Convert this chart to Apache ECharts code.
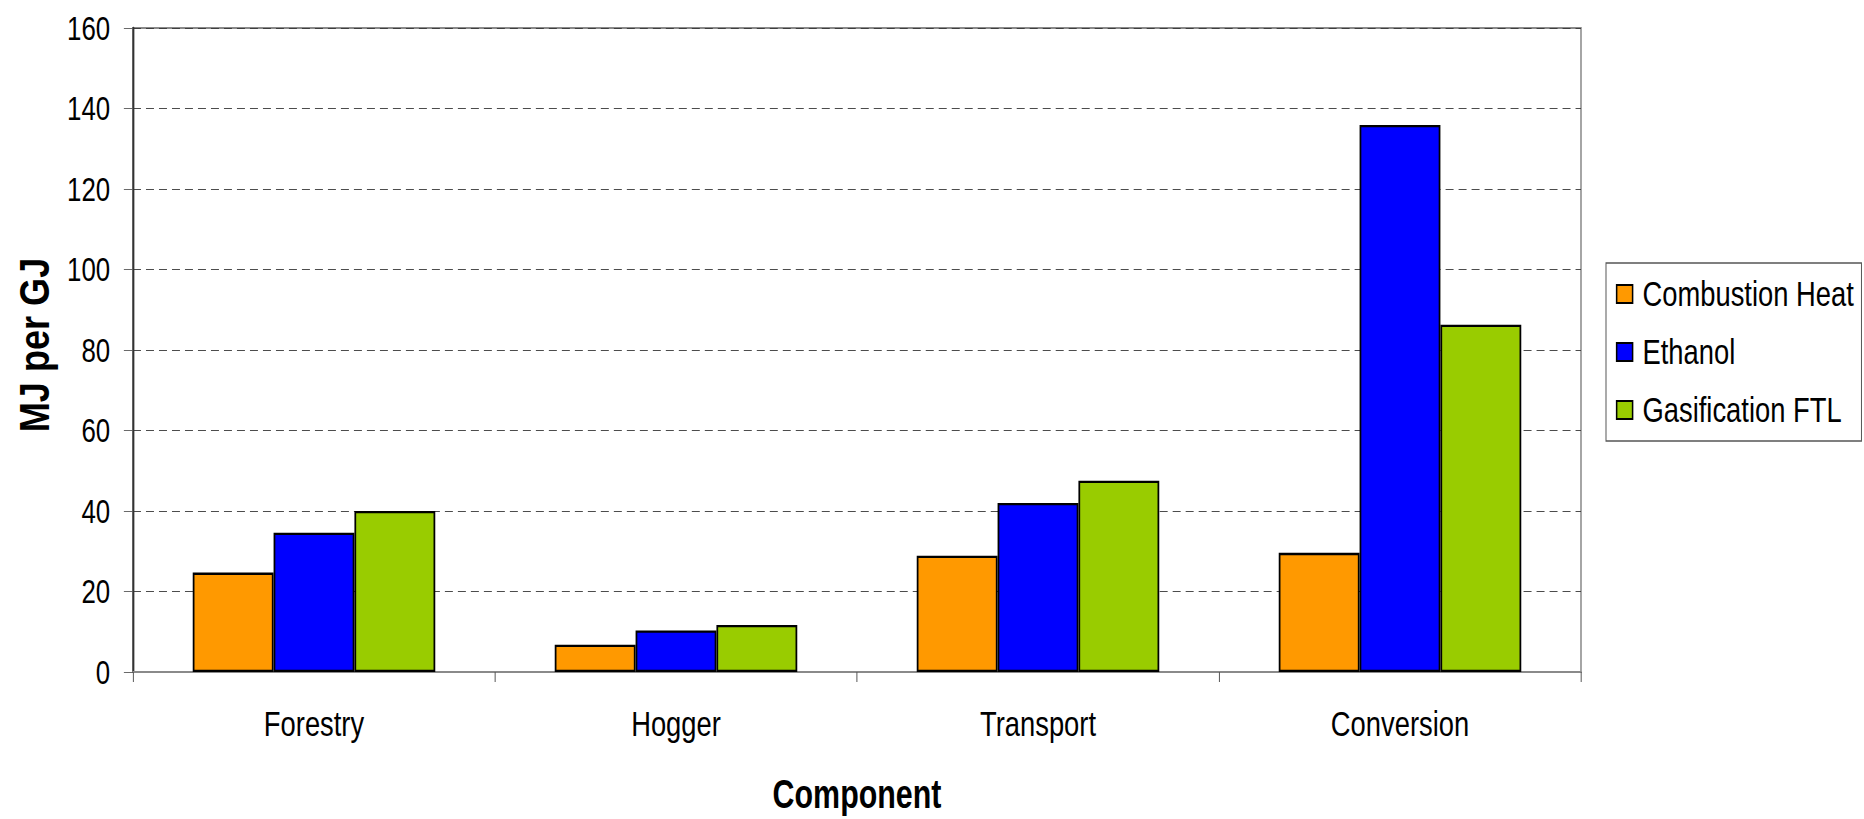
<!DOCTYPE html>
<html>
<head>
<meta charset="utf-8">
<script src="https://cdn.jsdelivr.net/npm/echarts@6/dist/echarts.min.js"></script>
<style>
html,body{margin:0;padding:0;background:#fff;overflow:hidden;width:1864px;height:819px;}
#wrap{width:1864px;height:819px;overflow:hidden;position:relative;}
#chart{position:absolute;left:0;top:0;height:819px;transform-origin:0 0;}
</style>
</head>
<body>
<div id="wrap"><div id="chart"></div></div>
<script>
const categories = ['Forestry', 'Hogger', 'Transport', 'Conversion'];
const combustionHeat = [24.7, 6.8, 28.9, 29.6];
const ethanol = [34.6, 10.3, 42.0, 135.9];
const gasificationFTL = [40.0, 11.7, 47.5, 86.3];
const seriesNames = ['Combustion Heat', 'Ethanol', 'Gasification FTL'];
const yTicks = { min: 0, max: 160, interval: 20 };
const yTitle = 'MJ per GJ';
const xTitle = 'Component';

// Narrow (condensed) text look: chart is laid out wider and compressed horizontally.
const K = 0.76;
const W = 1864 / K;
const el = document.getElementById('chart');
el.style.width = W + 'px';
el.style.transform = 'scaleX(' + K + ')';

const FONT = "'Liberation Sans', Arial, sans-serif";
const colors = ['#FF9900', '#0000FF', '#99CC00'];
const data = [combustionHeat, ethanol, gasificationFTL];

const chart = echarts.init(el, null, { renderer: 'svg', width: W, height: 819 });
chart.setOption({
  animation: false,
  backgroundColor: '#ffffff',
  grid: {
    left: 133 / K, top: 28, right: 283 / K, bottom: 147,
    outerBoundsMode: 'none',
    containLabel: false,
    show: true, borderColor: '#8a8a8a', borderWidth: 2, backgroundColor: 'transparent'
  },
  legend: {
    orient: 'vertical',
    left: 1606 / K, top: 263,
    padding: [13, 10, 13, 13],
    itemWidth: 21, itemHeight: 18, itemGap: 22,
    icon: 'rect',
    borderColor: '#555', borderWidth: 1.3,
    textStyle: { fontFamily: FONT, fontSize: 36, lineHeight: 36, color: '#000', padding: [0, 0, 0, 8] },
    data: seriesNames
  },
  graphic: [{
    type: 'text',
    x: 34 / K, y: 345,
    rotation: Math.PI / 2,
    scaleX: 0.82, scaleY: 1.28,
    silent: true,
    style: {
      text: yTitle,
      fontFamily: FONT, fontSize: 44, fontWeight: 'bold', fill: '#000',
      align: 'center', verticalAlign: 'middle'
    }
  }],
  xAxis: {
    type: 'category',
    data: categories,
    name: xTitle,
    nameLocation: 'middle',
    nameGap: 102,
    nameTextStyle: { fontFamily: FONT, fontSize: 40, fontWeight: 'bold', color: '#000' },
    axisLine: { lineStyle: { color: '#8a8a8a', width: 2 } },
    axisTick: { show: true, length: 10, alignWithLabel: false, lineStyle: { color: '#555', width: 1.3 } },
    axisLabel: { fontFamily: FONT, fontSize: 36, color: '#000', margin: 34 },
    splitLine: { show: false }
  },
  yAxis: {
    type: 'value',
    min: yTicks.min, max: yTicks.max, interval: yTicks.interval,
    axisLine: { show: true, lineStyle: { color: '#333', width: 2.6 } },
    axisTick: { show: true, length: 12, lineStyle: { color: '#555', width: 1 } },
    axisLabel: { fontFamily: FONT, fontSize: 34, color: '#000', margin: 30 },
    splitLine: { show: true, lineStyle: { color: '#333', width: 1, type: [10.5, 6.6] } }
  },
  series: seriesNames.map((n, i) => ({
    name: n,
    type: 'bar',
    data: data[i],
    barGap: '0%',
    barCategoryGap: '33%',
    itemStyle: { color: colors[i], borderColor: '#000', borderWidth: 2.3 }
  }))
});
</script>
</body>
</html>
